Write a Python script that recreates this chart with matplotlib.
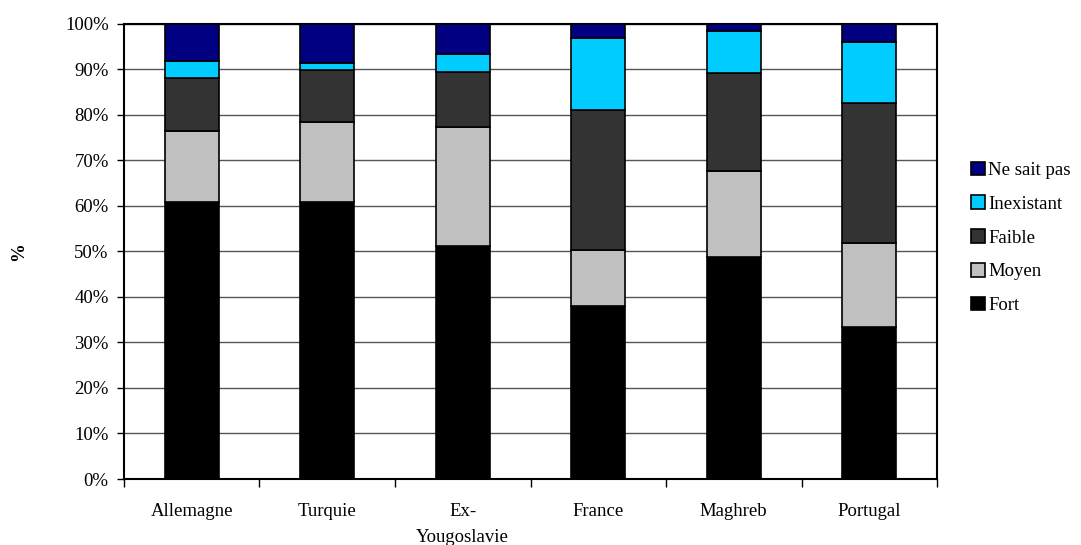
import matplotlib.pyplot as plt
import numpy as np

plt.rcParams['font.family'] = ['Liberation Serif', 'DejaVu Serif']

pays = ['Allemagne', 'Turquie', 'Ex-\nYougoslavie', 'France', 'Maghreb', 'Portugal']
fort = [60.9, 60.8, 51.3, 38.1, 48.8, 33.3]
moyen = [15.6, 17.7, 26.0, 12.2, 18.9, 18.5]
faible = [11.7, 11.4, 12.2, 30.8, 21.6, 30.8]
inexistant = [3.7, 1.5, 3.8, 15.9, 9.2, 13.5]
ne_sait_pas = [8.1, 8.6, 6.7, 3.0, 1.5, 3.9]

series = [
    ('Fort', fort, '#000000'),
    ('Moyen', moyen, '#C0C0C0'),
    ('Faible', faible, '#333333'),
    ('Inexistant', inexistant, '#00CCFF'),
    ('Ne sait pas', ne_sait_pas, '#000080'),
]

fig = plt.figure(figsize=(10.81, 5.45), dpi=100)
ax = fig.add_axes([0.1147, 0.1211, 0.7521, 0.8349])

x = np.arange(len(pays))
bottom = np.zeros(len(pays))
for nom, vals, col in series:
    ax.bar(x, vals, 0.4, bottom=bottom, color=col, edgecolor='black',
           linewidth=1.2, label=nom, zorder=3)
    bottom += np.array(vals)

ax.set_xlim(-0.5, len(pays) - 0.5)
ax.set_ylim(0, 100)
ax.set_yticks(np.arange(0, 101, 10))
ax.set_yticklabels(['%d%%' % v for v in range(0, 101, 10)], fontsize=13.5)
ax.yaxis.grid(True, color='#555555', linewidth=1, zorder=0)

ax.set_xticks(np.arange(-0.5, len(pays), 1))
ax.set_xticklabels([])
ax.set_xticks(x, minor=True)
ax.set_xticklabels(pays, minor=True, fontsize=13.5, linespacing=1.75)
ax.tick_params(axis='x', which='minor', length=0, pad=17)
ax.tick_params(axis='x', which='major', length=6, width=1, direction='out')
ax.tick_params(axis='y', length=5, width=1, direction='out', pad=6)

for s in ax.spines.values():
    s.set_linewidth(1.5)

ax.set_ylabel('%', fontsize=13.5, fontweight='bold', labelpad=27)

h, l = ax.get_legend_handles_labels()
ax.legend(h[::-1], l[::-1], loc='center left', bbox_to_anchor=(1.042, 0.53),
          frameon=False, fontsize=13.5, handlelength=0.75, handleheight=0.75,
          handletextpad=0.15, labelspacing=0.87, borderaxespad=0, borderpad=0)

fig.savefig('out.png', dpi=100)
